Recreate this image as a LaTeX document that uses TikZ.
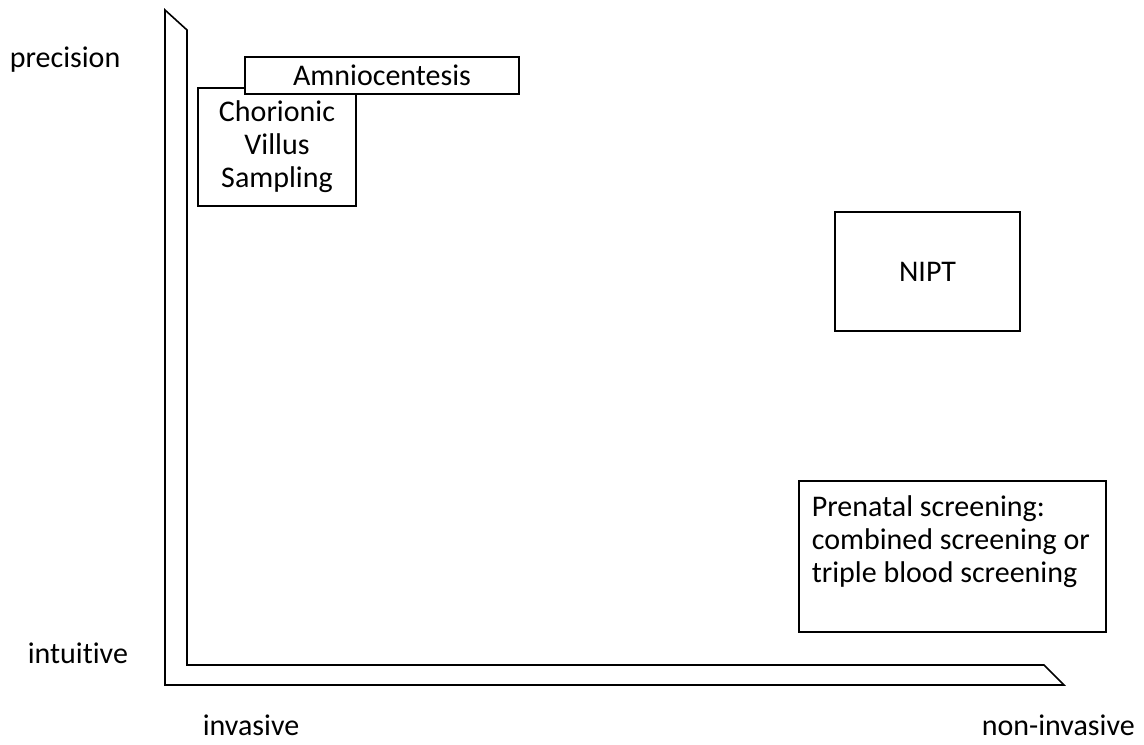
\documentclass[tikz,border=0pt]{standalone}
\usepackage{fontspec}
\setmainfont{Carlito}[Ligatures=NoCommon]
\usetikzlibrary{positioning}

\begin{document}
\begin{tikzpicture}[x=0.75pt,y=-0.75pt,line width=1.2pt,
  every node/.style={font=\fontsize{22.5}{24.75}\selectfont},
  box/.style={draw,fill=white,inner sep=0pt,align=center},
  lbl/.style={inner sep=0pt,anchor=base west}]
  \useasboundingbox (0,0) rectangle (1144,744);
  % bent axis arrow
  \draw (165,10) -- (165,685) -- (1064,685) -- (1044,665) -- (187,665) -- (187,30) -- cycle;
  % axis words
  \node[lbl] (precision) at (9,67) {precision};
  \node[lbl] (intuitive) at (27,663) {intuitive};
  \node[lbl] (invasive) at (202,735) {invasive};
  \node[lbl] (noninvasive) at (981,735) {non-invasive};
  % methods
  \node[box,minimum width=118.5pt,minimum height=88.5pt] (cvs) at (277,147)
    {Chorionic\\Villus\\Sampling};
  \node[box,minimum width=205.5pt,minimum height=27.75pt] (amnio) at (382,75.5) {Amniocentesis};
  \node[box,minimum width=138.75pt,minimum height=89.25pt] (nipt) at (927.5,271.5) {NIPT};
  \node[box,minimum width=230.25pt,minimum height=113.25pt] (screening) at (952.5,556.5) {};
  \node[inner sep=0pt,anchor=north west,align=left] (screeningtext) at (811,495)
    {Prenatal screening:\\combined screening or\\triple blood screening};
\end{tikzpicture}
\end{document}
